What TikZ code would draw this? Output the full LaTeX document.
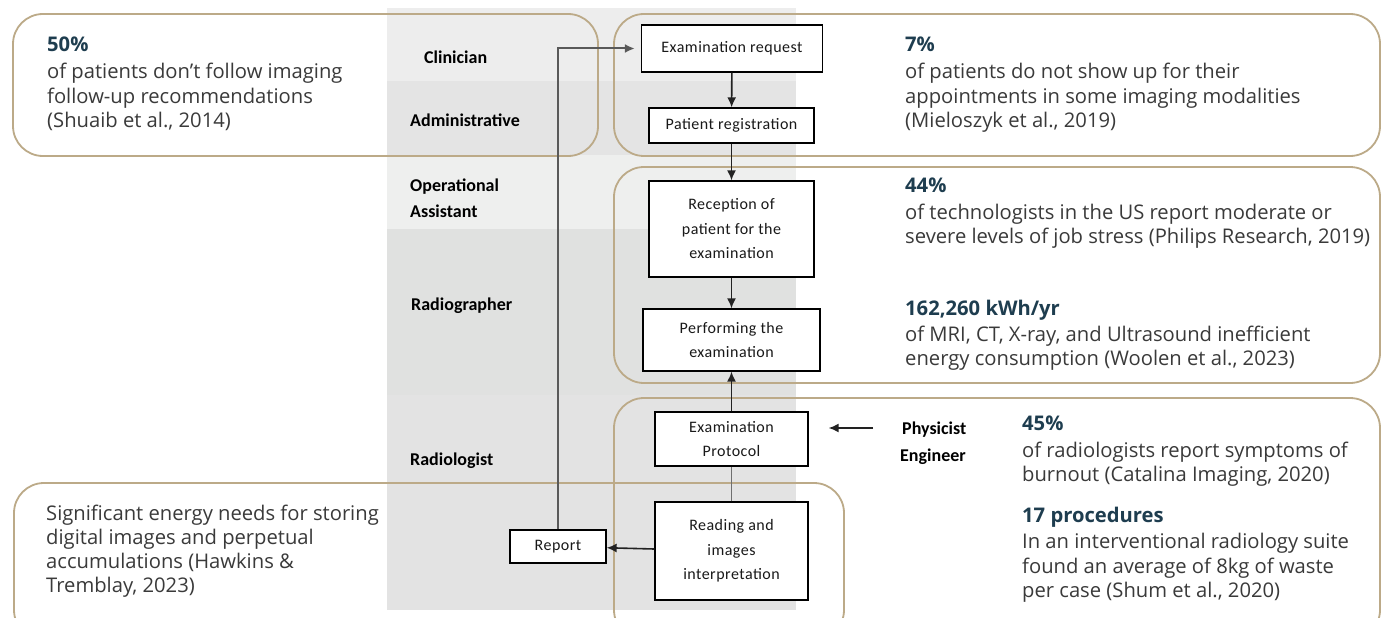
\documentclass[tikz,border=0pt]{standalone}
\usepackage{fontspec}
\setmainfont{Open Sans}
\newfontfamily\lanefont{Carlito}
\newfontfamily\boxfont[LetterSpace=3]{Carlito}
\usetikzlibrary{arrows.meta}
\definecolor{callout}{HTML}{BCAA88}
\definecolor{headc}{HTML}{1E3D4F}
\definecolor{bodyc}{HTML}{3A3A3A}
\definecolor{laneA}{HTML}{EDEDED}
\definecolor{laneB}{HTML}{E4E4E4}
\definecolor{laneC}{HTML}{EEEFEE}
\definecolor{laneD}{HTML}{E0E1E0}
\definecolor{laneE}{HTML}{E3E3E3}
\definecolor{linec}{HTML}{222222}
\tikzset{
  calloutbox/.style={draw=callout, line width=1.8pt, rounded corners=30pt},
  lanelabel/.style={anchor=base west, inner sep=0pt, font=\lanefont\fontsize{18}{20}\selectfont\bfseries, text=black},
  stepbox/.style={draw=black, fill=white, line width=1.3pt, inner sep=0pt, align=center,
    font=\boxfont\fontsize{16}{24.5}\selectfont, text=black!90},
  head/.style={anchor=base west, inner sep=0pt, font=\fontsize{20.2}{24}\selectfont\bfseries, text=headc},
  body/.style={anchor=base west, inner sep=0pt, font=\fontsize{20.2}{24}\selectfont, text=bodyc},
  conn/.style={draw=linec, line width=1.6pt, -{Latex[length=10pt,width=9pt]}},
}
\begin{document}
\begin{tikzpicture}[x=1pt,y=-1pt]
\useasboundingbox (0,0) rectangle (1382,618);
\fill[white] (0,0) rectangle (1382,618);
\begin{scope}
\clip (0,0) rectangle (1382,618);
% swim lanes
\fill[laneA] (387,8) rectangle (796,81);
\fill[laneB] (387,81) rectangle (796,155);
\fill[laneC] (387,155) rectangle (796,229);
\fill[laneD] (387,229) rectangle (796,395);
\fill[laneE] (387,395) rectangle (796,610);
% callouts
\draw[calloutbox] (13,14) rectangle (598,156);
\draw[calloutbox] (614,14) rectangle (1380,156);
\draw[calloutbox] (614,167) rectangle (1380,383);
\draw[calloutbox] (614,398) rectangle (1380,640);
\draw[calloutbox] (14,483) rectangle (844,640);
\end{scope}

% lane labels
\node[lanelabel] (lcl) at (424,64) {Clinician};
\node[lanelabel] (lad) at (410,126) {Administrative};
\node[lanelabel] (lop) at (410,191) {Operational};
\node[lanelabel] (las) at (410,217) {Assistant};
\node[lanelabel] (lrg) at (411,310) {Radiographer};
\node[lanelabel] (lrl) at (410,465) {Radiologist};
\node[lanelabel] (lph) at (902,434) {Physicist};
\node[lanelabel] (len) at (900,461) {Engineer};

% process boxes
\node[stepbox, minimum width=181pt, minimum height=47pt] (req) at (732,48.5) {Examination request};
\node[stepbox, minimum width=165pt, minimum height=35pt] (reg) at (731.5,125.5) {Patient registration};
\node[stepbox, minimum width=165pt, minimum height=96pt] (rec) at (731.5,229) {Reception of\\patient for the\\examination};
\node[stepbox, minimum width=177pt, minimum height=62pt] (perf) at (731.5,340) {Performing the\\examination};
\node[stepbox, minimum width=153pt, minimum height=54pt] (prot) at (731.5,439) {Examination\\Protocol};
\node[stepbox, minimum width=153pt, minimum height=98pt] (read) at (731.5,551) {Reading and\\images\\interpretation};
\node[stepbox, minimum width=96pt, minimum height=33pt] (rep) at (558,546.5) {Report};
\coordinate (phx) at (873,428);

% connectors
\draw[conn] (req) -- (reg);
\draw[conn] (reg) -- (rec);
\draw[conn] (rec) -- (perf);
\draw[conn] (prot) -- (perf);
\draw[draw=linec!65, line width=1.8pt] (read) -- (prot);
\draw[conn] (read) -- (rep);
\draw[draw=linec!75, line width=2pt, -{Latex[length=10pt,width=9pt]}] (rep.north) |- ([xshift=-6pt]req.west);
\draw[conn] (phx) -- ([xshift=20pt]prot.east |- phx);

% statistics text
\node[head] (h1) at (47,52) {50\%};
\node[body] (t1a) at (47,79) {of patients don’t follow imaging};
\node[body] (t1b) at (47,103) {follow-up recommendations};
\node[body] (t1c) at (47,127) {(Shuaib et al., 2014)};

\node[head] (h2) at (905,52) {7\%};
\node[body] (t2a) at (905,79) {of patients do not show up for their};
\node[body] (t2b) at (905,103) {appointments in some imaging modalities};
\node[body] (t2c) at (905,127) {(Mieloszyk et al., 2019)};

\node[head] (h3) at (905,192) {44\%};
\node[body] (t3a) at (905,219) {of technologists in the US report moderate or};
\node[body] (t3b) at (905,243) {severe levels of job stress (Philips Research, 2019)};

\node[head] (h4) at (905,315) {162,260 kWh/yr};
\node[body] (t4a) at (905,341) {of MRI, CT, X-ray, and Ultrasound inefficient};
\node[body] (t4b) at (905,365) {energy consumption (Woolen et al., 2023)};

\node[head] (h5) at (1022,430) {45\%};
\node[body] (t5a) at (1022,457) {of radiologists report symptoms of};
\node[body] (t5b) at (1022,481) {burnout (Catalina Imaging, 2020)};

\node[head] (h6) at (1022,522) {17 procedures};
\node[body] (t6a) at (1022,548) {In an interventional radiology suite};
\node[body] (t6b) at (1022,573) {found an average of 8kg of waste};
\node[body] (t6c) at (1022,597) {per case (Shum et al., 2020)};

\node[body] (t7a) at (46,520) {Significant energy needs for storing};
\node[body] (t7b) at (46,544) {digital images and perpetual};
\node[body] (t7c) at (46,568) {accumulations (Hawkins \&};
\node[body] (t7d) at (46,592) {Tremblay, 2023)};
\end{tikzpicture}
\end{document}
